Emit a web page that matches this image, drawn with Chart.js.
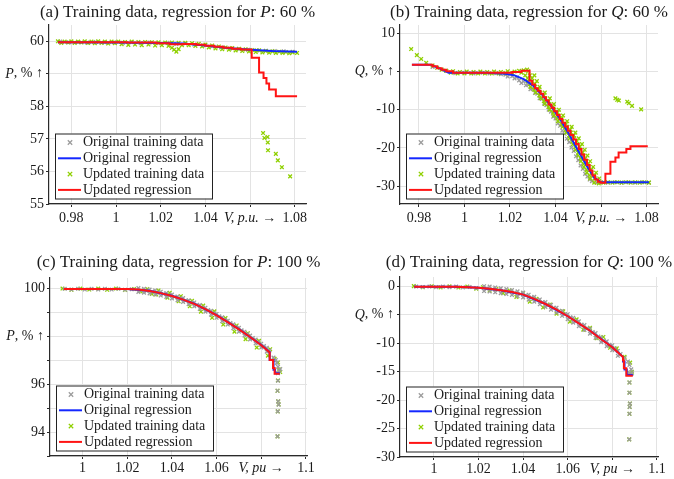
<!DOCTYPE html>
<html>
<head>
<meta charset="utf-8">
<script src="https://cdn.jsdelivr.net/npm/chart.js@4.4.1/dist/chart.umd.min.js"></script>
<style>
  html, body { margin: 0; padding: 0; background: #fff; }
  #wrap { position: relative; width: 674px; height: 479px; }
  canvas { position: absolute; }
</style>
</head>
<body>
<div id="wrap">
  <canvas id="ca" width="337" height="240" style="left:0;top:0"></canvas>
  <canvas id="cb" width="337" height="240" style="left:337px;top:0"></canvas>
  <canvas id="cc" width="337" height="239" style="left:0;top:240px"></canvas>
  <canvas id="cd" width="337" height="239" style="left:337px;top:240px"></canvas>
</div>
<script>
// ---- data: [V, value] pairs ----

// (a) P, 60 %
const aOrigData = [[0.975,59.99],[0.979,59.97],[0.983,59.98],[0.987,59.96],[0.991,59.98],[0.995,59.96],[0.999,59.97],[1.003,59.95],[1.007,59.97],[1.011,59.94],[1.015,59.96],[1.019,59.94],[1.023,59.95],[1.027,59.92],[1.031,59.93],[1.035,59.90],[1.039,59.88],[1.043,59.84],[1.047,59.81],[1.051,59.78],[1.055,59.76],[1.059,59.74],[1.063,59.72],[1.067,59.71],[1.071,59.70],[1.075,59.69],[1.079,59.68]];
const aOrigFit = [[0.974,59.97],[1.0,59.96],[1.02,59.95],[1.03,59.93],[1.04,59.87],[1.05,59.79],[1.06,59.74],[1.07,59.70],[1.081,59.68]];
const aNewData = [[0.974,60.0],[0.977,59.99],[0.980,60.0],[0.983,59.99],[0.986,60.0],[0.989,59.99],[0.992,60.0],[0.995,59.99],[0.998,59.99],[1.001,59.99],[1.004,59.98],[1.007,59.99],[1.010,59.98],[1.013,59.98],[1.016,59.97],[1.019,59.97],[1.022,59.96],[1.025,59.96],[1.028,59.95],[1.031,59.95],[1.034,59.94],[1.037,59.92],[1.040,59.9],[1.043,59.87],[1.046,59.84],[1.049,59.81],[1.052,59.79],[1.055,59.77],[1.058,59.75],[1.061,59.73],[1.064,59.72],[1.067,59.7],[1.070,59.69],[1.073,59.68],[1.076,59.67],[1.079,59.66],
  [0.9755,59.95],[0.9785,59.96],[0.9815,59.95],[0.9845,59.96],[0.9875,59.95],[0.9905,59.94],[0.9935,59.95],[0.9965,59.93],[0.9995,59.94],[1.0025,59.91],[1.0055,59.89],[1.0085,59.9],[1.0115,59.88],[1.0145,59.9],[1.0175,59.87],[1.0205,59.88],[1.0235,59.86],[1.025,59.8],[1.026,59.74],[1.027,59.68],[1.028,59.76],[1.0295,59.88],[1.0325,59.88],[1.0355,59.86],[1.0385,59.84],[1.0415,59.81],[1.0445,59.78],[1.0475,59.76],[1.0505,59.74],[1.0535,59.72],[1.0565,59.7],[1.0595,59.69],[1.0625,59.67],[1.0655,59.66],[1.0685,59.65],[1.0715,59.64],[1.0745,59.64],[1.0775,59.63],[1.081,59.64],
  [1.0658,57.18],[1.0664,57.03],[1.0678,57.06],[1.0679,56.89],[1.0680,56.65],[1.0715,56.54],[1.0724,56.34],[1.0742,56.13],[1.0779,55.85]];
const aNewFit = [[0.974,59.97],[1.005,59.96],[1.018,59.94],[1.024,59.91],[1.030,59.92],[1.036,59.89],[1.040,59.86],[1.044,59.83],[1.048,59.80],[1.052,59.77],[1.056,59.75],[1.0607,59.49],[1.064,59.04],[1.066,58.87],[1.0673,58.70],[1.0685,58.52],[1.0715,58.31],[1.081,58.31]];

// (b) Q, 60 %
const bOrigData = [[0.986,1.2],[0.992,0.2],[0.996,-0.4],[1.0,-0.3],[1.004,-0.5],[1.008,-0.3],[1.011,-0.5],[1.014,-0.4],[1.016,-0.7],[1.018,-0.8],[1.019,-1.3],[1.021,-1.2],[1.022,-1.8],[1.023,-1.5],[1.024,-2.3],[1.025,-3.0],[1.026,-2.6],[1.027,-3.6],[1.028,-3.4],[1.029,-4.6],[1.030,-4.5],[1.031,-5.6],[1.032,-5.8],[1.033,-7.0],[1.034,-7.2],[1.035,-8.4],[1.036,-8.8],[1.037,-10.0],[1.038,-10.5],[1.039,-11.8],[1.040,-12.3],[1.041,-13.6],[1.042,-14.2],[1.043,-15.5],[1.044,-16.3],[1.045,-17.6],[1.046,-18.5],[1.047,-19.9],[1.048,-20.8],[1.049,-22.2],[1.050,-23.2],[1.051,-24.6],[1.052,-25.5],[1.053,-26.8],[1.054,-27.5],[1.055,-28.3],[1.056,-28.7],[1.058,-29.1],[1.060,-29.0],[1.063,-29.1],[1.066,-29.0],[1.069,-29.1],[1.072,-29.0],[1.075,-29.1],[1.078,-29.0],[1.081,-29.1]];
const bOrigFit = [[0.977,1.8],[0.985,1.8],[0.990,0.6],[0.993,-0.3],[1.010,-0.3],[1.018,-0.6],[1.022,-1.0],[1.026,-2.0],[1.030,-3.6],[1.034,-6.0],[1.038,-9.0],[1.042,-12.5],[1.046,-16.5],[1.050,-20.8],[1.054,-25.0],[1.057,-27.8],[1.060,-29.0],[1.081,-29.0]];
const bNewData = [[0.9766,5.9],[0.9791,4.3],[0.981,3.3],[0.9832,2.3],[0.986,1.6],[0.988,1.0],[0.990,0.5],[0.992,0.2],[0.994,-0.3],[0.995,0.1],[0.997,-0.5],[0.998,-0.1],[1.000,-0.5],[1.001,0.0],[1.003,-0.5],[1.004,-0.1],[1.006,-0.5],[1.007,0.0],[1.009,-0.5],[1.010,-0.1],[1.012,-0.5],[1.013,0.0],[1.015,-0.5],[1.016,-0.1],[1.018,-0.4],[1.019,0.1],[1.021,-0.4],[1.022,0.0],[1.024,0.2],[1.025,-0.3],[1.026,0.3],[1.0275,0.5],[1.028,0.1],
  [1.0267,-1.0],[1.0287,-1.0],[1.0307,-1.0],[1.0277,-1.75],[1.0297,-1.75],
  [1.0278,-2.5],[1.0298,-2.5],[1.0318,-2.5],[1.0289,-3.25],[1.0309,-3.25],
  [1.0290,-4.0],[1.0310,-4.0],[1.0330,-4.0],[1.0306,-4.75],[1.0326,-4.75],
  [1.0313,-5.5],[1.0333,-5.5],[1.0353,-5.5],[1.0329,-6.25],[1.0349,-6.25],
  [1.0335,-7.0],[1.0355,-7.0],[1.0375,-7.0],[1.0349,-7.75],[1.0369,-7.75],
  [1.0353,-8.5],[1.0373,-8.5],[1.0393,-8.5],[1.0369,-9.25],[1.0389,-9.25],
  [1.0375,-10.0],[1.0395,-10.0],[1.0415,-10.0],[1.0389,-10.75],[1.0409,-10.75],
  [1.0393,-11.5],[1.0413,-11.5],[1.0433,-11.5],[1.0407,-12.25],[1.0427,-12.25],
  [1.0411,-13.0],[1.0431,-13.0],[1.0451,-13.0],[1.0426,-13.75],[1.0446,-13.75],
  [1.0431,-14.5],[1.0451,-14.5],[1.0471,-14.5],[1.0444,-15.25],[1.0464,-15.25],
  [1.0447,-16.0],[1.0467,-16.0],[1.0487,-16.0],[1.0460,-16.75],[1.0480,-16.75],
  [1.0462,-17.5],[1.0482,-17.5],[1.0502,-17.5],[1.0474,-18.25],[1.0494,-18.25],
  [1.0476,-19.0],[1.0496,-19.0],[1.0516,-19.0],[1.0487,-19.75],[1.0507,-19.75],
  [1.0488,-20.5],[1.0508,-20.5],[1.0528,-20.5],[1.0499,-21.25],[1.0519,-21.25],
  [1.0500,-22.0],[1.0520,-22.0],[1.0540,-22.0],[1.0511,-22.75],[1.0531,-22.75],
  [1.0512,-23.5],[1.0532,-23.5],[1.0552,-23.5],[1.0523,-24.25],[1.0543,-24.25],
  [1.0525,-25.0],[1.0545,-25.0],[1.0565,-25.0],[1.0536,-25.75],[1.0556,-25.75],
  [1.0538,-26.5],[1.0558,-26.5],[1.0578,-26.5],[1.0550,-27.25],[1.0570,-27.25],
  [1.0552,-28.0],[1.0572,-28.0],[1.0592,-28.0],
  [1.057,-29.1],[1.059,-29.3],[1.061,-29.1],[1.063,-29.0],[1.065,-29.1],[1.067,-29.0],[1.069,-29.1],[1.071,-29.0],[1.073,-29.1],[1.075,-29.0],[1.077,-29.1],[1.079,-29.0],[1.081,-29.1],
  [1.0663,-7.0],[1.0671,-7.4],[1.0678,-7.6],[1.0715,-7.9],[1.0722,-8.3],[1.0736,-9.0],[1.0776,-9.9]];
const bNewFit = [[0.9769,1.8],[0.986,1.4],[0.988,0.9],[0.990,0.5],[0.992,0.1],[0.995,-0.3],[1.021,-0.1],[1.025,0.2],[1.0286,-2.4],[1.0298,-3.4],[1.0310,-4.4],[1.0322,-5.0],[1.0334,-5.8],[1.0346,-6.7],[1.0358,-7.6],[1.0370,-8.6],[1.0382,-9.5],[1.0394,-10.4],[1.0406,-11.4],[1.0418,-12.4],[1.0430,-13.4],[1.0442,-14.4],[1.0454,-15.5],[1.0466,-16.6],[1.0478,-17.8],[1.0490,-19.0],[1.0502,-20.3],[1.0514,-21.7],[1.0526,-23.1],[1.0538,-24.5],[1.0550,-25.9],[1.0562,-27.2],[1.0574,-28.3],[1.0586,-28.9],[1.0598,-29.1],[1.0619,-26.8],[1.0641,-23.6],[1.0663,-22.5],[1.0677,-21.2],[1.0711,-20.3],[1.0729,-19.6],[1.0805,-19.6]];

// (c) P, 100 %
const cOrigData = [[0.992,99.97],[0.995,99.94],[0.998,99.97],[1.001,99.94],[1.004,99.97],[1.007,99.94],[1.010,99.97],[1.013,99.94],[1.016,99.97],[1.019,99.93],[1.022,99.95],
  [1.025,100.0],[1.025,99.84],[1.0262,99.91],
  [1.0275,99.97],[1.0275,99.81],[1.0287,99.88],
  [1.03,99.94],[1.03,99.78],[1.0312,99.84],
  [1.0325,99.9],[1.0325,99.73],[1.0337,99.8],
  [1.035,99.85],[1.035,99.69],[1.0362,99.75],
  [1.0375,99.79],[1.0375,99.63],[1.0387,99.69],
  [1.04,99.73],[1.04,99.57],[1.0412,99.63],
  [1.0425,99.65],[1.0425,99.49],[1.0437,99.56],
  [1.045,99.58],[1.045,99.42],[1.0462,99.48],
  [1.0475,99.49],[1.0475,99.33],[1.0487,99.39],
  [1.05,99.4],[1.05,99.24],[1.0512,99.3],
  [1.0525,99.29],[1.0525,99.13],[1.0537,99.19],
  [1.055,99.18],[1.055,99.02],[1.0562,99.08],
  [1.0575,99.05],[1.0575,98.89],[1.0587,98.95],
  [1.06,98.92],[1.06,98.76],[1.0612,98.82],
  [1.0625,98.78],[1.0625,98.62],[1.0637,98.68],
  [1.065,98.64],[1.065,98.48],[1.0662,98.54],
  [1.0675,98.49],[1.0675,98.33],[1.0687,98.39],
  [1.07,98.34],[1.07,98.18],[1.0712,98.24],
  [1.0725,98.18],[1.0725,98.02],[1.0737,98.08],
  [1.075,98.02],[1.075,97.86],[1.0762,97.92],
  [1.0775,97.85],[1.0775,97.69],[1.0787,97.75],
  [1.08,97.68],[1.08,97.52],[1.0812,97.58],
  [1.0825,97.51],[1.0825,97.35],[1.0837,97.4],
  [1.0855,97.1],[1.0865,97.0],[1.087,96.88],[1.0875,96.72],[1.088,96.55],[1.0875,96.45],[1.0885,96.62],
  [1.0875,96.14],[1.0873,95.72],[1.0876,95.28],[1.0878,95.14],[1.0874,94.86],[1.0873,93.82]];
const cOrigFit = [[0.9916,99.96],[1.02,99.96],[1.03,99.89],[1.04,99.68],[1.05,99.35],[1.06,98.87],[1.07,98.29],[1.08,97.63],[1.0838,97.33],[1.0838,97.0],[1.0855,97.0],[1.0855,96.6],[1.0862,96.6],[1.0862,96.45],[1.0883,96.45]];
const cNewData = [[0.991,99.98],[0.995,99.93],[0.999,99.98],[1.003,99.94],[1.007,99.98],[1.011,99.93],[1.015,99.98],[1.019,99.92],[1.023,99.96],[1.026,99.86],[1.031,99.76],[1.029,99.96],[1.033,99.73],[1.034,99.9],[1.038,99.6],[1.039,99.8],[1.043,99.45],[1.044,99.66],[1.048,99.24],[1.049,99.47],[1.053,99.02],[1.054,99.27],[1.058,98.76],[1.059,99.03],[1.063,98.48],[1.064,98.75],[1.068,98.18],[1.069,98.44],[1.073,97.87],[1.074,98.12],[1.078,97.52],[1.079,97.8],[1.083,97.18],[1.084,97.45],[1.086,97.05],[1.0875,96.9],[1.088,96.6],[1.0885,96.5],[1.0875,96.15],[1.0873,95.72],[1.0876,95.28],[1.0878,95.15],[1.0874,94.86],[1.0873,93.82]];
const cNewFit = [[0.9916,99.96],[1.02,99.96],[1.025,99.94],[1.03,99.88],[1.035,99.79],[1.04,99.67],[1.045,99.52],[1.05,99.34],[1.055,99.12],[1.06,98.86],[1.065,98.58],[1.07,98.28],[1.075,97.96],[1.08,97.62],[1.0838,97.32],[1.0838,97.0],[1.0853,97.0],[1.0853,96.67],[1.086,96.67],[1.086,96.43],[1.0883,96.43]];

// (d) Q, 100 %
const dOrigData = [[0.992,-0.02],[0.995,-0.12],[0.998,-0.03],[1.001,-0.13],[1.004,-0.04],[1.007,-0.14],[1.010,-0.05],[1.013,-0.17],[1.016,-0.1],[1.019,-0.3],
  [1.0225,0.03],[1.0225,-0.82],[1.0237,-0.4],
  [1.025,-0.05],[1.025,-0.9],[1.0262,-0.5],
  [1.0275,-0.19],[1.0275,-1.04],[1.0287,-0.64],
  [1.03,-0.33],[1.03,-1.18],[1.0312,-0.8],
  [1.0325,-0.49],[1.0325,-1.34],[1.0337,-0.96],
  [1.035,-0.65],[1.035,-1.5],[1.0362,-1.12],
  [1.0375,-0.87],[1.0375,-1.72],[1.0387,-1.35],
  [1.04,-1.1],[1.04,-1.95],[1.0412,-1.6],
  [1.0425,-1.47],[1.0425,-2.32],[1.0437,-1.98],
  [1.045,-1.85],[1.045,-2.7],[1.0462,-2.36],
  [1.0475,-2.3],[1.0475,-3.15],[1.0487,-2.8],
  [1.05,-2.75],[1.05,-3.6],[1.0512,-3.26],
  [1.0525,-3.25],[1.0525,-4.1],[1.0537,-3.77],
  [1.055,-3.75],[1.055,-4.6],[1.0562,-4.3],
  [1.0575,-4.32],[1.0575,-5.17],[1.0587,-4.86],
  [1.06,-4.9],[1.06,-5.75],[1.0612,-5.45],
  [1.0625,-5.52],[1.0625,-6.37],[1.0637,-6.08],
  [1.065,-6.15],[1.065,-7.0],[1.0662,-6.72],
  [1.0675,-6.8],[1.0675,-7.65],[1.0687,-7.37],
  [1.07,-7.45],[1.07,-8.3],[1.0712,-8.05],
  [1.0725,-8.2],[1.0725,-9.05],[1.0737,-8.8],
  [1.075,-8.95],[1.075,-9.8],[1.0762,-9.55],
  [1.0775,-9.65],[1.0775,-10.5],[1.0787,-10.25],
  [1.08,-10.35],[1.08,-11.2],[1.0812,-10.95],
  [1.0825,-11.35],[1.0825,-12.2],[1.0837,-11.9],
  [1.0855,-12.6],[1.087,-13.2],[1.0877,-13.8],[1.0885,-14.6],[1.0888,-15.3],[1.0877,-15.2],
  [1.0877,-16.9],[1.0877,-18.7],[1.0879,-20.6],[1.0878,-21.2],[1.0877,-22.4],[1.0876,-26.9]];
const dOrigFit = [[0.9912,-0.05],[1.01,-0.08],[1.02,-0.25],[1.03,-0.68],[1.04,-1.45],[1.05,-3.1],[1.06,-5.25],[1.07,-7.8],[1.08,-10.7],[1.0833,-11.9],[1.0848,-12.4],[1.0848,-13.2],[1.0855,-13.2],[1.0855,-14.6],[1.0865,-14.6],[1.0865,-15.6],[1.0892,-15.6]];
const dNewData = [[0.991,0.05],[0.995,-0.15],[0.999,0.03],[1.003,-0.18],[1.007,0.02],[1.011,-0.2],[1.015,-0.05],[1.019,-0.4],[1.022,-0.15],[1.025,-0.75],[1.028,-0.45],[1.031,-1.2],[1.034,-0.75],[1.037,-1.85],[1.04,-1.2],[1.043,-2.7],[1.046,-2.2],[1.049,-3.7],[1.052,-3.2],[1.055,-4.8],[1.058,-4.4],[1.061,-6.2],[1.064,-5.8],[1.067,-7.6],[1.07,-7.3],[1.073,-9.1],[1.076,-8.9],[1.079,-10.8],[1.082,-10.9],[1.0855,-12.4],[1.088,-13.4],[1.0888,-15.0],[1.0877,-15.2],[1.0877,-16.9],[1.0877,-18.7],[1.0879,-20.6],[1.0878,-21.2],[1.0877,-22.4],[1.0876,-26.9]];
const dNewFit = [[0.9912,-0.05],[1.01,-0.08],[1.02,-0.25],[1.025,-0.4],[1.03,-0.68],[1.035,-1.0],[1.04,-1.45],[1.045,-2.2],[1.05,-3.1],[1.055,-4.1],[1.06,-5.25],[1.065,-6.5],[1.07,-7.8],[1.075,-9.3],[1.08,-10.7],[1.0833,-11.9],[1.0848,-12.4],[1.0848,-13.0],[1.0852,-13.0],[1.0852,-14.4],[1.0863,-14.4],[1.0863,-15.7],[1.0892,-15.7]];

// legend text
const legendLabels = ["Original training data", "Original regression", "Updated training data", "Updated regression"];

const FONT = '"Liberation Serif", "DejaVu Serif", serif';
const GREY = "#9c9c9c", BLUE = "#1428ff", GREEN = "#8fd000", RED = "#ff1414";
const INK = "#1a1a1a", AXIS = "#2a2a2a";

function pts(list) {
  return list.map(function (p) { return { x: p[0], y: p[1] }; });
}

function fmt(v) {
  return String(Math.round(v * 1000) / 1000);
}

function near(a, b) { return Math.abs(a - b) < 1e-6; }

function setFont(ctx, italic, size) {
  ctx.font = (italic ? "italic " : "") + size + "px " + FONT;
}

function drawRich(ctx, parts, x, y, size, align) {
  var w = 0;
  parts.forEach(function (p) { setFont(ctx, p[1], size); w += ctx.measureText(p[0]).width; });
  var cx = align === "center" ? x - w / 2 : (align === "right" ? x - w : x);
  ctx.textAlign = "left";
  ctx.textBaseline = "middle";
  ctx.fillStyle = INK;
  parts.forEach(function (p) {
    setFont(ctx, p[1], size);
    ctx.fillText(p[0], cx, y);
    cx += ctx.measureText(p[0]).width;
  });
}

function drawCross(ctx, x, y, r, color) {
  ctx.strokeStyle = color;
  ctx.lineWidth = 1.3;
  ctx.beginPath();
  ctx.moveTo(x - r, y - r); ctx.lineTo(x + r, y + r);
  ctx.moveTo(x - r, y + r); ctx.lineTo(x + r, y - r);
  ctx.stroke();
}

function makeDecor(p) {
  return {
    id: "decor",
    afterDraw: function (chart) {
      var ctx = chart.ctx, a = chart.chartArea;
      var xs = chart.scales.x, ys = chart.scales.y;
      ctx.save();
      // title
      drawRich(ctx, p.title, (a.left + a.right) / 2, p.titleY, 17, "center");
      // axis labels sitting in the tick-label slots
      drawRich(ctx, p.yLabel, a.left - 6, ys.getPixelForValue(p.yLabelAt), 14, "right");
      drawRich(ctx, p.xLabel, xs.getPixelForValue(p.xLabelAt), a.bottom + 3 + p.xPad + 8, 14, "center");
      // legend box
      var bw = 157, bh = 65;
      var x0 = a.left + 6, y0 = a.bottom - 5.5 - bh;
      ctx.fillStyle = "#fff";
      ctx.fillRect(x0, y0, bw, bh);
      ctx.strokeStyle = "#222";
      ctx.lineWidth = 1;
      ctx.strokeRect(x0 + 0.5, y0 + 0.5, bw, bh);
      var kinds = [["x", GREY], ["line", BLUE], ["x", GREEN], ["line", RED]];
      kinds.forEach(function (k, i) {
        var yy = y0 + 9 + i * 15.8;
        if (k[0] === "line") {
          ctx.strokeStyle = k[1];
          ctx.lineWidth = 2;
          ctx.beginPath();
          ctx.moveTo(x0 + 3, yy); ctx.lineTo(x0 + 26, yy);
          ctx.stroke();
        } else {
          drawCross(ctx, x0 + 15, yy, 2.2, k[1]);
        }
        drawRich(ctx, [[legendLabels[i], false]], x0 + 28, yy, 14, "left");
      });
      ctx.restore();
    }
  };
}

function makeChart(p) {
  var canvas = document.getElementById(p.id);
  var W = canvas.width, H = canvas.height;
  var ar = p.area; // [left, top, right, bottom] in canvas px
  var scatter = function (data, color, order) {
    return { data: pts(data), showLine: false, pointStyle: "crossRot", pointRadius: 2.6,
      pointBorderWidth: 1.3, borderColor: color, backgroundColor: color, order: order };
  };
  var line = function (data, color, order, stepped) {
    return { data: pts(data), showLine: true, pointRadius: 0, borderColor: color, borderWidth: 2,
      fill: false, tension: 0, stepped: stepped, order: order };
  };
  var tickFont = { family: FONT, size: 14 };
  return new Chart(canvas.getContext("2d"), {
    type: "scatter",
    data: {
      datasets: [
        scatter(p.origData, GREY, p.greyTop ? 2.5 : 4),
        line(p.origFit, BLUE, 2, false),
        scatter(p.newData, GREEN, 3),
        line(p.newFit, RED, 1, p.stepped)
      ]
    },
    options: {
      responsive: false,
      animation: false,
      events: [],
      layout: { padding: { top: ar[1], right: W - ar[2], left: 0, bottom: 0 } },
      plugins: { legend: { display: false }, tooltip: { enabled: false } },
      scales: {
        x: {
          type: "linear",
          min: p.xMin,
          max: p.xMax,
          afterFit: function (s) { s.height = H - ar[3]; },
          ticks: {
            stepSize: p.xStep, includeBounds: false, autoSkip: false, maxRotation: 0,
            padding: p.xPad, color: INK, font: tickFont,
            callback: function (v) { return near(v, p.xLabelAt) ? "" : fmt(v); }
          },
          grid: { color: "#e3e3e3", tickColor: AXIS, tickLength: 3 },
          border: { color: AXIS, width: 1.2 }
        },
        y: {
          type: "linear",
          min: p.yMin,
          max: p.yMax,
          afterFit: function (s) { s.width = ar[0]; },
          ticks: {
            stepSize: p.yStep, includeBounds: false, autoSkip: false,
            padding: 2, color: INK, font: tickFont,
            callback: function (v) {
              if (near(v, p.yLabelAt)) return "";
              return p.yShow(v) ? fmt(v) : "";
            }
          },
          grid: { color: "#e3e3e3", tickColor: AXIS, tickLength: 3 },
          border: { color: AXIS, width: 1.2 }
        }
      }
    },
    plugins: [makeDecor(p)]
  });
}

var allLabels = function () { return true; };

makeChart({
  id: "ca", area: [49, 25, 306, 204], titleY: 12.5,
  title: [["(a) Training data, regression for ", false], ["P", true], [": 60 %", false]],
  yLabel: [["P", true], [", % \u2191", false]], yLabelAt: 59,
  xLabel: [["V, p.u.", true], [" \u2192", false]], xLabelAt: 1.06, xPad: 3,
  xMin: 0.970, xMax: 1.085, xStep: 0.02,
  yMin: 55, yMax: 60.5, yStep: 1, yShow: allLabels,
  origData: aOrigData, origFit: aOrigFit, newData: aNewData, newFit: aNewFit,
  stepped: true, greyTop: false
});

makeChart({
  id: "cb", area: [63, 25, 321, 204], titleY: 12.5,
  title: [["(b) Training data, regression for ", false], ["Q", true], [": 60 %", false]],
  yLabel: [["Q", true], [", % \u2191", false]], yLabelAt: 0,
  xLabel: [["V, p.u.", true], [" \u2192", false]], xLabelAt: 1.06, xPad: 3,
  xMin: 0.9717, xMax: 1.085, xStep: 0.02,
  yMin: -34.7, yMax: 12.2, yStep: 10, yShow: allLabels,
  origData: bOrigData, origFit: bOrigFit, newData: bNewData, newFit: bNewFit,
  stepped: true, greyTop: false
});

makeChart({
  id: "cc", area: [50, 38, 307, 216], titleY: 23,
  title: [["(c) Training data, regression for ", false], ["P", true], [": 100 %", false]],
  yLabel: [["P", true], [", % \u2191", false]], yLabelAt: 98,
  xLabel: [["V, pu", true], [" \u2192", false]], xLabelAt: 1.08, xPad: 1,
  xMin: 0.9854, xMax: 1.1005, xStep: 0.02,
  yMin: 93, yMax: 100.42, yStep: 1,
  yShow: function (v) { return Math.round(v) % 2 === 0; },
  origData: cOrigData, origFit: cOrigFit, newData: cNewData, newFit: cNewFit,
  stepped: false, greyTop: true
});

makeChart({
  id: "cd", area: [63, 37, 321, 217], titleY: 23,
  title: [["(d) Training data, regression for ", false], ["Q", true], [": 100 %", false]],
  yLabel: [["Q", true], [", % \u2191", false]], yLabelAt: -5,
  xLabel: [["V, pu", true], [" \u2192", false]], xLabelAt: 1.08, xPad: 1,
  xMin: 0.9848, xMax: 1.1005, xStep: 0.02,
  yMin: -30, yMax: 1.65, yStep: 5, yShow: allLabels,
  origData: dOrigData, origFit: dOrigFit, newData: dNewData, newFit: dNewFit,
  stepped: false, greyTop: true
});
</script>
</body>
</html>
